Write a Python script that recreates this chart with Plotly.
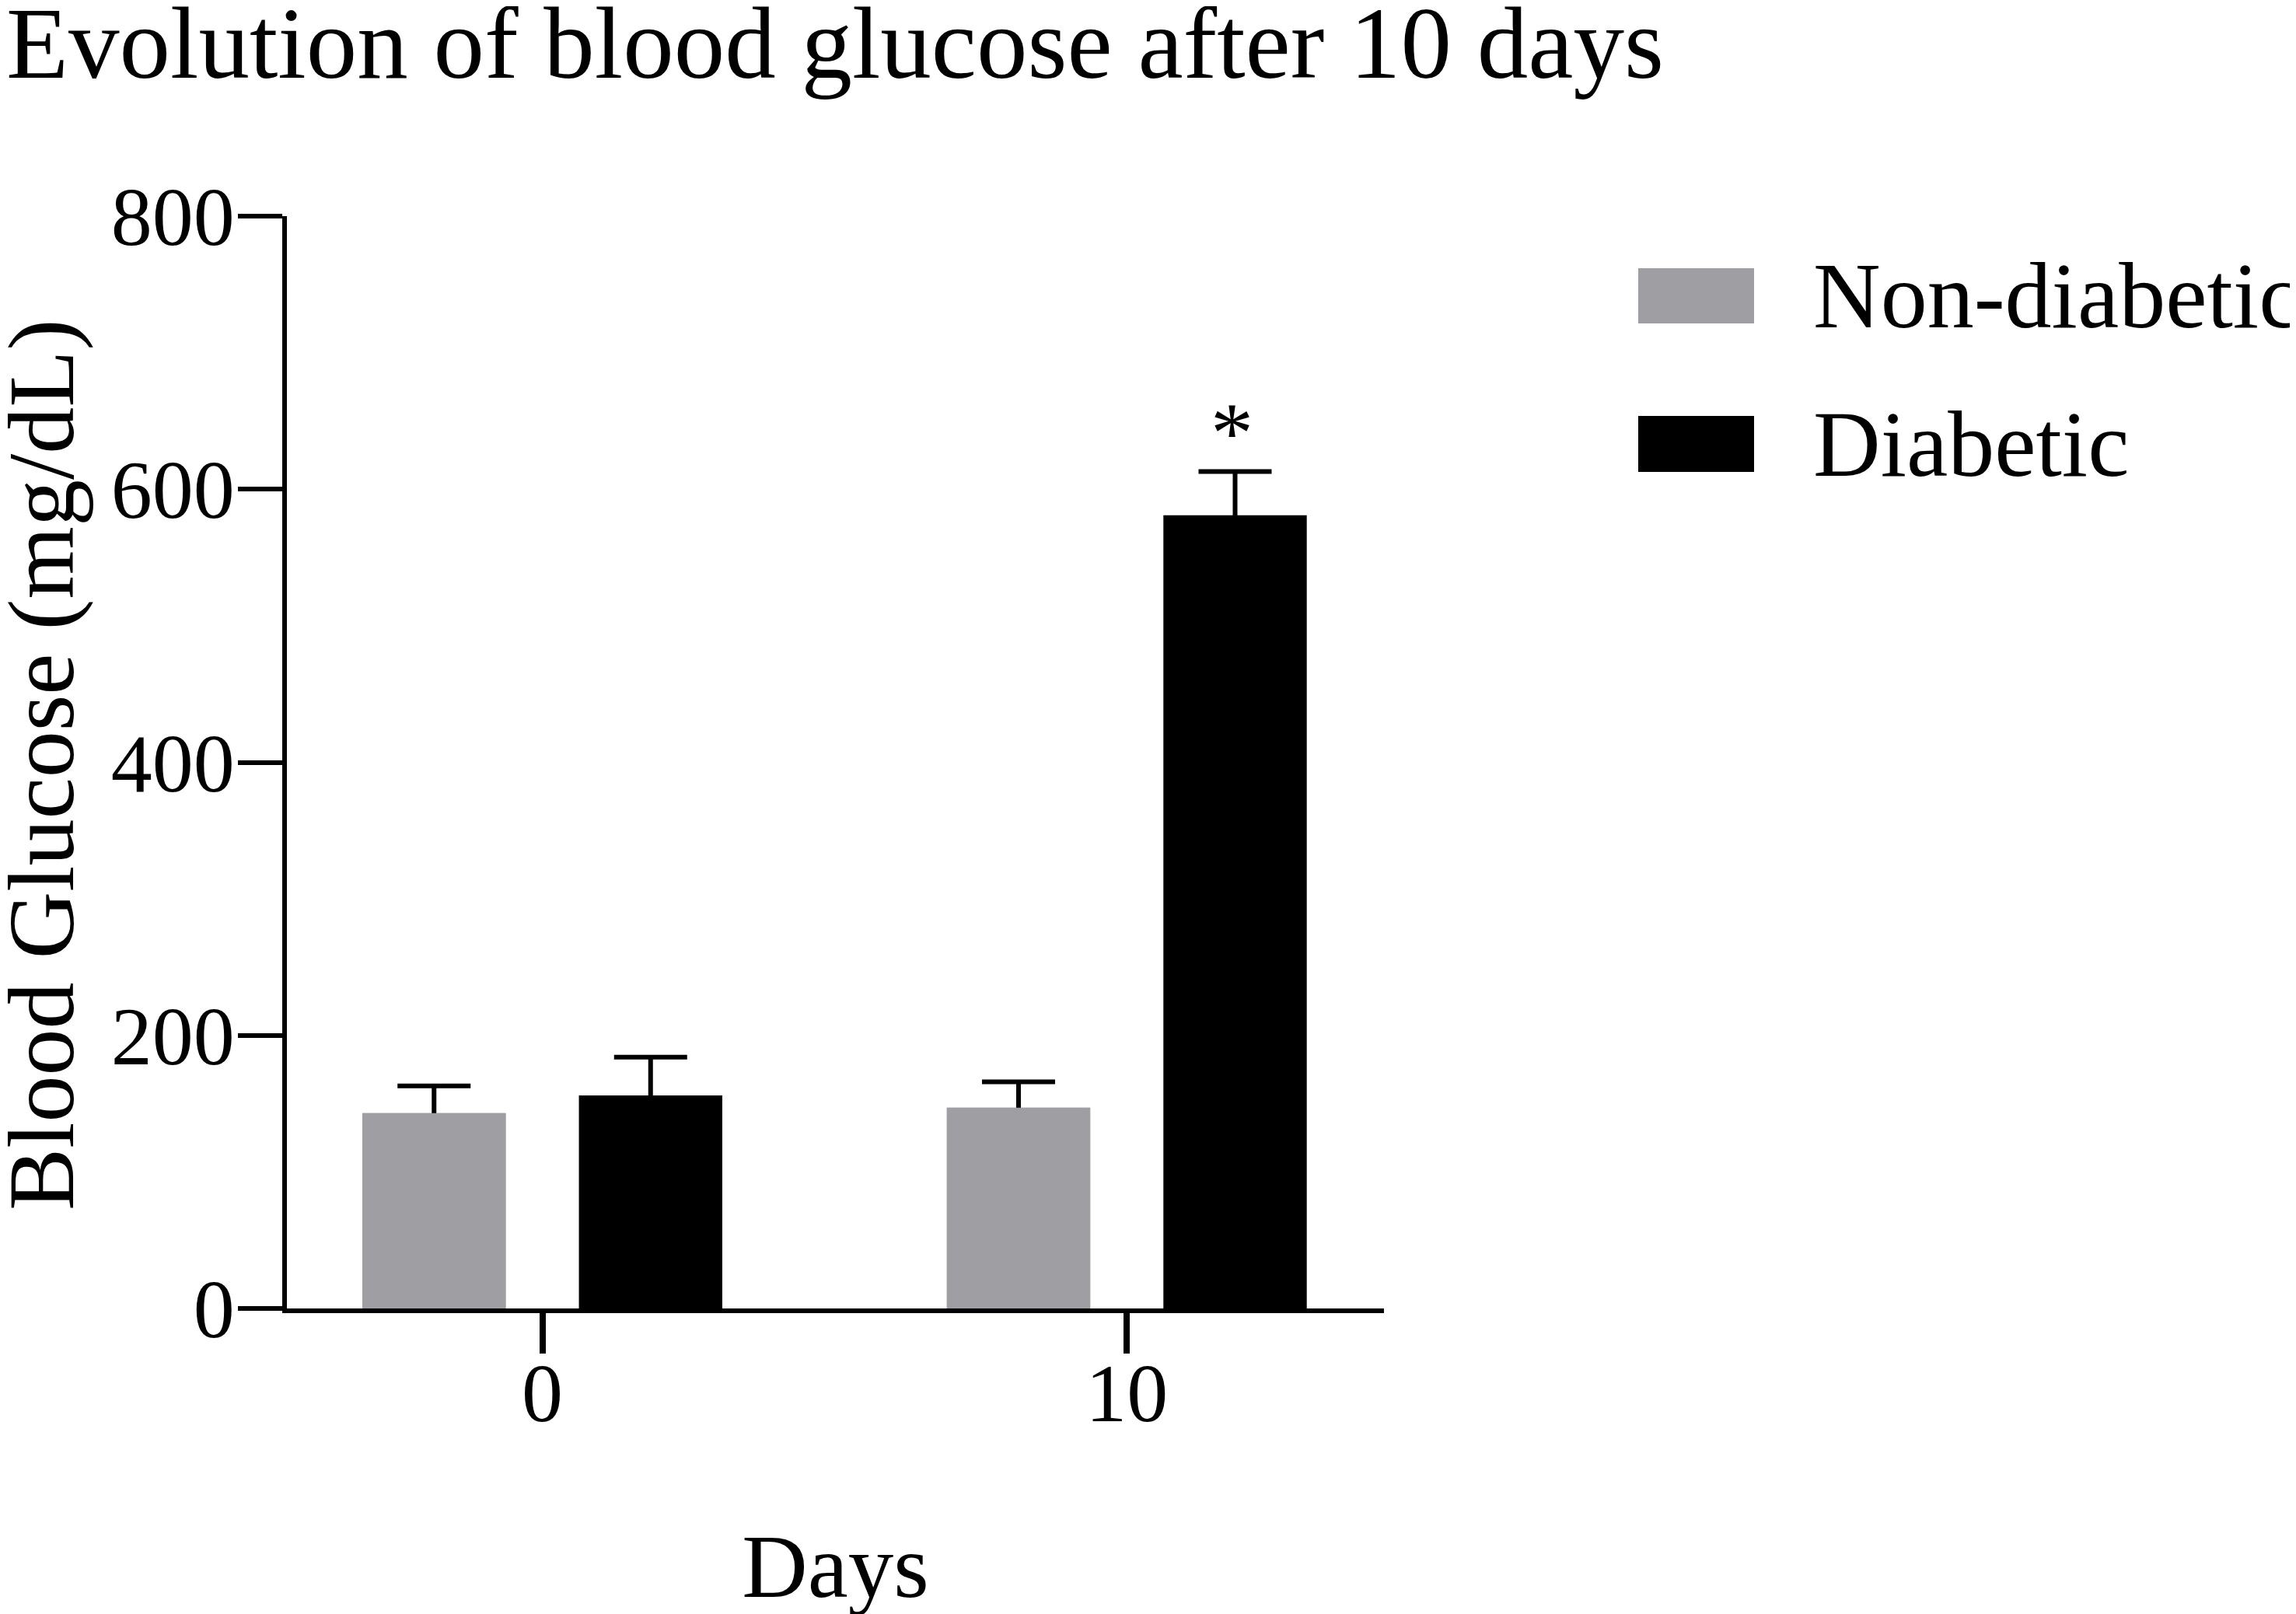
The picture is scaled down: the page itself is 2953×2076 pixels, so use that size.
import plotly.graph_objects as go

# data
days = ["0", "10"]
groups = ["Non-diabetic", "Diabetic"]
non_diabetic_mean = [141, 145]
non_diabetic_err = [22, 21]
diabetic_mean = [154, 579]
diabetic_err = [30, 34]
significant = [False, True]   # '*' above Diabetic bar
colors = {"Non-diabetic": "#9f9ea3", "Diabetic": "#000000"}

FONT = "Times New Roman, Liberation Serif, serif"
W, H = 2953, 2076
# plot area in px
L, R, T, B = 361, 1772, 270, 1675
BARGAP, BARGROUPGAP = 0.259, 0.363
EDGE = 7   # bar outline in the bar's own colour, hides the lower error cap

fig = go.Figure()
series = [("Non-diabetic", non_diabetic_mean, non_diabetic_err),
          ("Diabetic", diabetic_mean, diabetic_err)]
for name, means, errs in series:
    fig.add_trace(go.Bar(
        x=days, y=means, name=name, offsetgroup=name,
        marker=dict(color=colors[name], line=dict(width=EDGE, color=colors[name])),
        error_y=dict(type="data", array=errs, arrayminus=[0] * len(errs),
                     symmetric=False, color="black", thickness=6, width=47),
        showlegend=False,
    ))
# redraw the grey bars on top so only the upper half of each error bar shows
fig.add_trace(go.Bar(
    x=days, y=non_diabetic_mean, name="Non-diabetic", offsetgroup="Non-diabetic",
    marker=dict(color=colors["Non-diabetic"],
                line=dict(width=EDGE, color=colors["Non-diabetic"])),
    showlegend=False, hoverinfo="skip",
))

# significance marks above the diabetic bars
slot = (1 - BARGAP) / len(groups)
for i, sig in enumerate(significant):
    if sig:
        fig.add_annotation(x=i + slot / 2, y=diabetic_mean[i] + diabetic_err[i],
                           xref="x", yref="y", text="*", showarrow=False,
                           yanchor="bottom", yshift=-14, xshift=-4,
                           font=dict(family=FONT, size=110, color="black"))

# legend drawn by hand so the swatches match the original size
def px_x(px):
    return (px - L) / (R - L)

def px_y(py):
    return (B - py) / (B - T)

legend_rows = [(337, 408), (527, 599)]
for name, (top, bot) in zip(groups, legend_rows):
    fig.add_shape(type="rect", xref="paper", yref="paper",
                  x0=px_x(2099), x1=px_x(2248), y0=px_y(bot), y1=px_y(top),
                  fillcolor=colors[name], line=dict(width=0))
    fig.add_annotation(xref="paper", yref="paper", x=px_x(2322), y=px_y((top + bot) / 2),
                       xanchor="left", yanchor="middle", text=name, showarrow=False,
                       font=dict(family=FONT, size=120, color="black"))

# y axis title as an annotation, the axis title is held inside the margin
fig.add_annotation(xref="paper", yref="paper", x=px_x(45), y=px_y(976),
                   xanchor="center", yanchor="middle", textangle=-90,
                   text="Blood Glucose (mg/dL)", showarrow=False,
                   font=dict(family=FONT, size=120, color="black"))

fig.update_layout(
    template="none",
    width=W, height=H,
    margin=dict(l=L, r=W - R, t=T, b=H - B, pad=0),
    paper_bgcolor="white", plot_bgcolor="white",
    barmode="group", bargap=BARGAP, bargroupgap=BARGROUPGAP,
    font=dict(family=FONT, color="black"),
    title=dict(text="Evolution of blood glucose after 10 days",
               xref="container", x=0, xanchor="left",
               yref="container", y=1 - 46 / H, yanchor="middle", pad=dict(t=0, l=0),
               font=dict(family=FONT, size=131, color="black")),
    xaxis=dict(type="category", range=[-0.437, 1.44], automargin=False,
               showline=True, linecolor="black", linewidth=6,
               ticks="outside", ticklen=52, tickwidth=8, tickcolor="black",
               showgrid=False, zeroline=False, ticklabelstandoff=-40,
               tickfont=dict(family=FONT, size=106, color="black"),
               title=dict(text="Days", standoff=124,
                          font=dict(family=FONT, size=117, color="black"))),
    yaxis=dict(range=[0, 800], tickvals=[0, 200, 400, 600, 800], automargin=False,
               showline=True, linecolor="black", linewidth=6,
               ticks="outside", ticklen=57, tickwidth=6, tickcolor="black",
               showgrid=False, zeroline=False, ticklabelstandoff=-17,
               tickfont=dict(family=FONT, size=106, color="black")),
)

fig.write_html("out.html")
